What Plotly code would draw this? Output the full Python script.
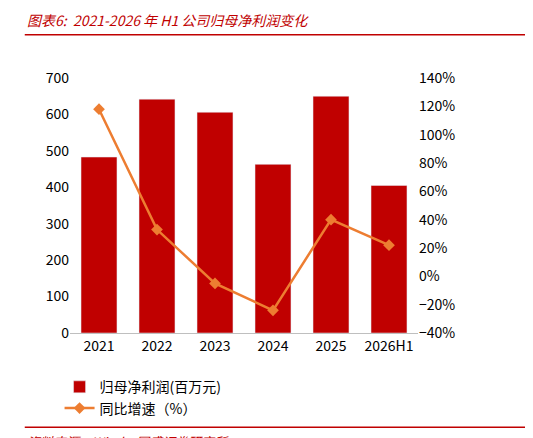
import plotly.graph_objects as go

categories = ["2021", "2022", "2023", "2024", "2025", "2026H1"]
profit = [483, 642, 606, 463, 650, 405]
growth = [118, 33, -5, -24, 40, 22]

font = "Noto Sans CJK SC"
fig = go.Figure()
fig.add_bar(x=categories, y=profit, name="归母净利润(百万元)", marker_color="#C00000", width=0.62)
fig.add_scatter(x=categories, y=growth, name="同比增速（%）", yaxis="y2", mode="lines+markers",
                line=dict(color="#ED7D31", width=2.5), marker=dict(symbol="diamond", size=9, color="#ED7D31"))
fig.update_layout(
    width=533, height=438, plot_bgcolor="white", paper_bgcolor="white",
    margin=dict(l=62, r=123, t=70, b=113),
    font=dict(family=font, size=14, color="#000"),
    bargap=0.38,
    xaxis=dict(showline=True, linecolor="#BFBFBF", ticks="", tickfont=dict(size=14)),
    yaxis=dict(range=[0, 700], dtick=100, showgrid=False, ticks="", tickfont=dict(size=14)),
    yaxis2=dict(range=[-40, 140], dtick=20, overlaying="y", side="right", showgrid=False,
                ticksuffix="%", tickfont=dict(size=14)),
    legend=dict(orientation="h", x=-0.03, xanchor="left", y=-0.15, yanchor="top",
                font=dict(size=14), entrywidth=200, entrywidthmode="pixels"),
    shapes=[
        dict(type="line", xref="paper", yref="paper", x0=-0.13, x1=1.31, y0=1.17, y1=1.17,
             line=dict(color="#C00000", width=1.5)),
        dict(type="line", xref="paper", yref="paper", x0=-0.13, x1=1.31, y0=-0.37, y1=-0.37,
             line=dict(color="#C00000", width=1.5)),
    ],
    annotations=[
        dict(text="<i>图表6:  2021-2026 年 H1 公司归母净利润变化</i>", xref="paper", yref="paper",
             x=-0.13, y=1.18, xanchor="left", yanchor="bottom", showarrow=False,
             font=dict(size=14, color="#C00000")),
        dict(text="<i>资料来源：Wind，国盛证券研究所</i>", xref="paper", yref="paper",
             x=-0.13, y=-0.38, xanchor="left", yanchor="top", showarrow=False,
             font=dict(size=13, color="#C00000")),
    ],
)
fig.write_html("out.html")
